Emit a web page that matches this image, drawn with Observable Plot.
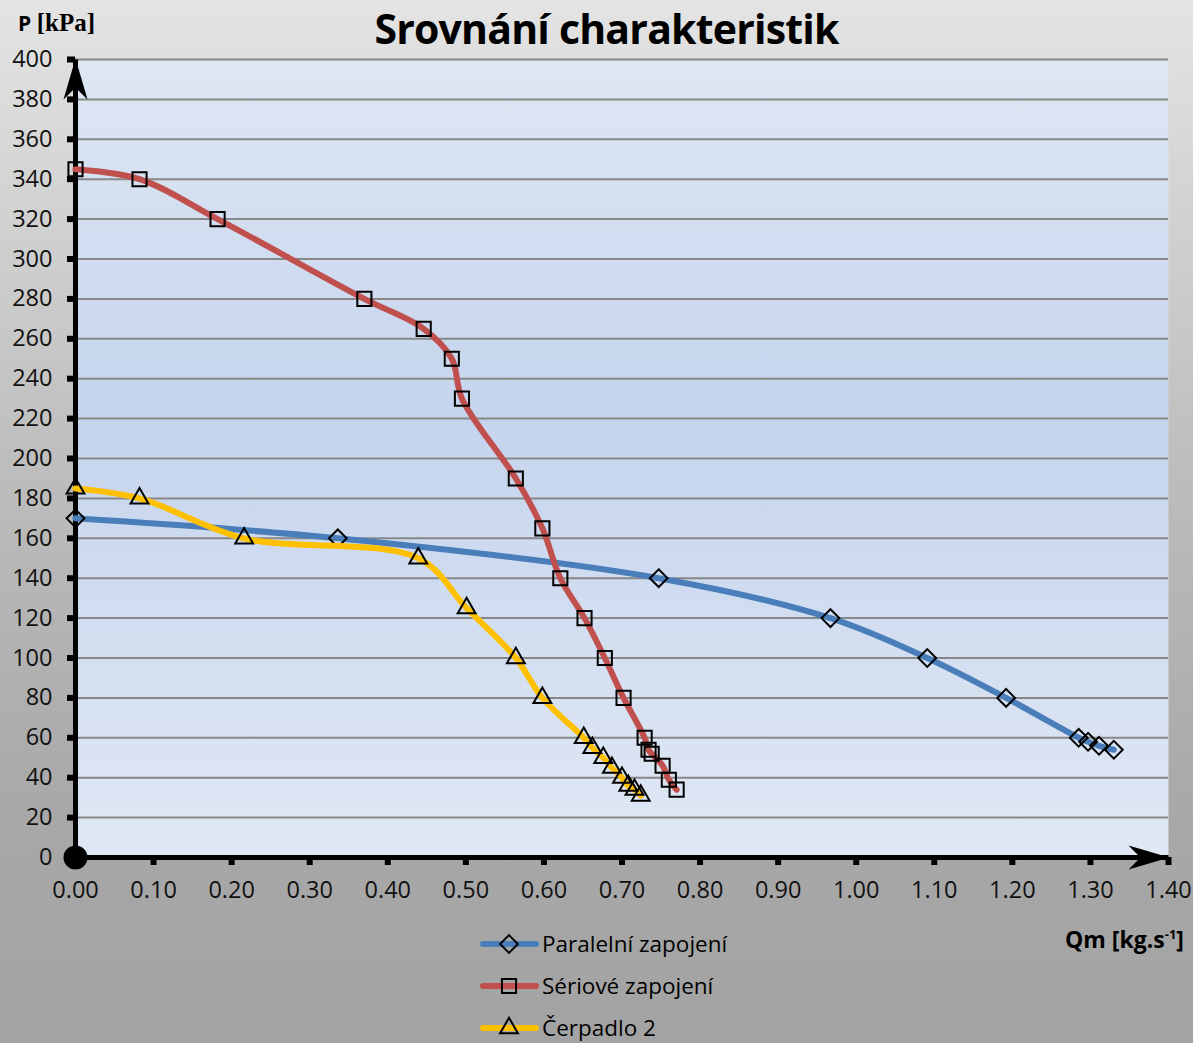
<!DOCTYPE html>
<html>
<head>
<meta charset="utf-8">
<script src="https://cdn.jsdelivr.net/npm/d3@7"></script>
<script src="https://cdn.jsdelivr.net/npm/@observablehq/plot@0.6"></script>
<style>
  body { margin: 0; }
  #wrap {
    position: relative; width: 1193px; height: 1043px; overflow: hidden;
    background: linear-gradient(to bottom, #e4e4e4 0%, #d2d2d2 20%, #bdbdbd 45%, #a8a8a8 78%, #a3a3a3 100%);
    font-family: "Open Sans", sans-serif; color: #000;
  }
  #chart { position: absolute; left: 0; top: 0; }
  #title {
    position: absolute; left: 10px; width: 1193px; top: 0px; text-align: center;
    font-weight: 700; font-size: 41px; letter-spacing: -0.8px;
  }
  #ylabel { position: absolute; left: 18px; top: 9px; font-weight: 700; font-size: 21px; }
  #ylabel .serif { font-family: "Liberation Serif", "DejaVu Serif", serif; font-size: 25px; }
  #xlabel { position: absolute; left: 1065px; top: 923px; font-weight: 700; font-size: 23px; }
  #xlabel sup { font-size: 13px; vertical-align: 9px; line-height: 0; }
  #legend { position: absolute; left: 478px; top: 924px; }
</style>
</head>
<body>
<div id="wrap">
  <div id="chart"></div>
  <div id="title">Srovnání charakteristik</div>
  <div id="ylabel">P <span class="serif">[kPa]</span></div>
  <div id="xlabel">Qm [kg.s<sup>-1</sup>]</div>
  <div id="legend"></div>
</div>
<script>
// ---- data ----
const seriesNames = ["Paralelní zapojení", "Sériové zapojení", "Čerpadlo 2"];

const paraQm = [0, 0.336, 0.747, 0.967, 1.091, 1.192, 1.285, 1.297, 1.311, 1.330];
const paraP  = [170, 160, 140, 120, 100, 80, 60, 58, 56, 54];

const serQm = [0, 0.082, 0.182, 0.370, 0.446, 0.482, 0.495, 0.564, 0.598, 0.621, 0.652, 0.678, 0.702, 0.729, 0.734, 0.738, 0.752, 0.760, 0.770];
const serP  = [345, 340, 320, 280, 265, 250, 230, 190, 165, 140, 120, 100, 80, 60, 54, 52, 46, 39, 34];

const cerQm = [0, 0.082, 0.216, 0.439, 0.501, 0.564, 0.598, 0.651, 0.662, 0.676, 0.687, 0.700, 0.708, 0.716, 0.724];
const cerP  = [185, 180, 160, 150, 125, 100, 80, 60, 55, 50, 45, 40, 36, 34, 31];

const xTicks = d3.range(0, 15).map(i => i / 10);   // 0.00 .. 1.40
const yTicks = d3.range(0, 21).map(i => i * 20);   // 0 .. 400
const xDomain = [0, 1.4];
const yDomain = [0, 400];

// ---- styles ----
const colors  = ["#4a7ebb", "#c0504d", "#ffc000"];
const symbols = ["diamond2", "square2", "triangle2"];
const radii   = [8, 9, 8.5];

const qmArr = [paraQm, serQm, cerQm];
const pArr  = [paraP, serP, cerP];
const seriesData = seriesNames.map((name, s) => qmArr[s].map((q, i) => ({series: name, qm: q, p: pArr[s][i]})));

const defs = () => {
  const d = d3.create("svg:defs");
  const g = d.append("linearGradient").attr("id", "plotbg").attr("x1", 0).attr("y1", 0).attr("x2", 0).attr("y2", 1);
  g.append("stop").attr("offset", "0%").attr("stop-color", "#dee7f3");
  g.append("stop").attr("offset", "45%").attr("stop-color", "#c5d4ed");
  g.append("stop").attr("offset", "100%").attr("stop-color", "#e0e8f4");
  return d.node();
};

// stealth-style arrowhead symbol, tip at the anchor point, pointing up
const stealth = {
  draw(context) {
    context.moveTo(0, -1);
    context.lineTo(12, 40);
    context.lineTo(0, 28);
    context.lineTo(-12, 40);
    context.closePath();
  }
};

const seriesMarks = seriesData.flatMap((data, s) => [
  Plot.line(data, {x: "qm", y: "p", stroke: colors[s], strokeWidth: 6, curve: "catmull-rom", strokeLinecap: "round"}),
  Plot.dot(data, {x: "qm", y: "p", symbol: () => symbols[s], r: radii[s], stroke: "black", strokeWidth: 2, fill: "none"})
]);

const axisLines = [
  {a: xDomain[0], b: yDomain[0], c: xDomain[0], d: yDomain[1]},
  {a: xDomain[0], b: yDomain[0], c: xDomain[1], d: yDomain[0]}
];
const arrowTips = [
  {qm: xDomain[0], p: yDomain[1], rot: 0},
  {qm: xDomain[1], p: yDomain[0], rot: 90}
];

const chart = Plot.plot({
  width: 1193,
  height: 900,
  marginLeft: 75,
  marginRight: 25,
  marginTop: 59,
  marginBottom: 43,
  style: {background: "transparent", fontFamily: "Open Sans, sans-serif", fontSize: "23.5px", color: "black", overflow: "visible"},
  x: {domain: xDomain},
  y: {domain: yDomain},
  symbol: {type: "identity"},
  marks: [
    defs,
    Plot.frame({fill: "url(#plotbg)", stroke: null}),
    Plot.gridY(yTicks, {stroke: "#878787", strokeOpacity: 1, strokeWidth: 2}),
    Plot.axisY({ticks: yTicks, tickSize: 8, tickPadding: 15, strokeWidth: 6, label: null, fill: "#111"}),
    Plot.axisX({ticks: xTicks, tickFormat: d3.format(".2f"), tickSize: 8, tickPadding: 16, strokeWidth: 6, label: null, fill: "#111"}),
    Plot.link(axisLines, {x1: "a", y1: "b", x2: "c", y2: "d", stroke: "black", strokeWidth: 5}),
    Plot.dot(arrowTips, {x: "qm", y: "p", symbol: () => stealth, rotate: "rot", fill: "black", stroke: null, r: 5}),
    ...seriesMarks,
    Plot.dot([{qm: xDomain[0], p: yDomain[0]}], {x: "qm", y: "p", r: 12, fill: "black"})
  ]
});
document.getElementById("chart").appendChild(chart);

// ---- legend ----
const lg = d3.select("#legend").append("svg").attr("width", 320).attr("height", 119);
seriesNames.forEach((name, s) => {
  const cy = 20 + s * 42;
  const row = lg.append("g").attr("transform", `translate(0,${cy})`);
  row.append("line").attr("x1", 5).attr("x2", 58).attr("y1", 0).attr("y2", 0)
    .attr("stroke", colors[s]).attr("stroke-width", 6).attr("stroke-linecap", "round");
  const symType = [d3.symbolDiamond2, d3.symbolSquare2, d3.symbolTriangle2][s];
  row.append("path").attr("transform", "translate(31,0)")
    .attr("d", d3.symbol(symType, Math.PI * radii[s] * radii[s])())
    .attr("fill", "none").attr("stroke", "black").attr("stroke-width", 2);
  row.append("text").attr("x", 64).attr("y", 0).attr("dy", "0.36em")
    .attr("font-family", "Open Sans, sans-serif").attr("font-size", 22.5).text(name);
});
</script>
</body>
</html>
